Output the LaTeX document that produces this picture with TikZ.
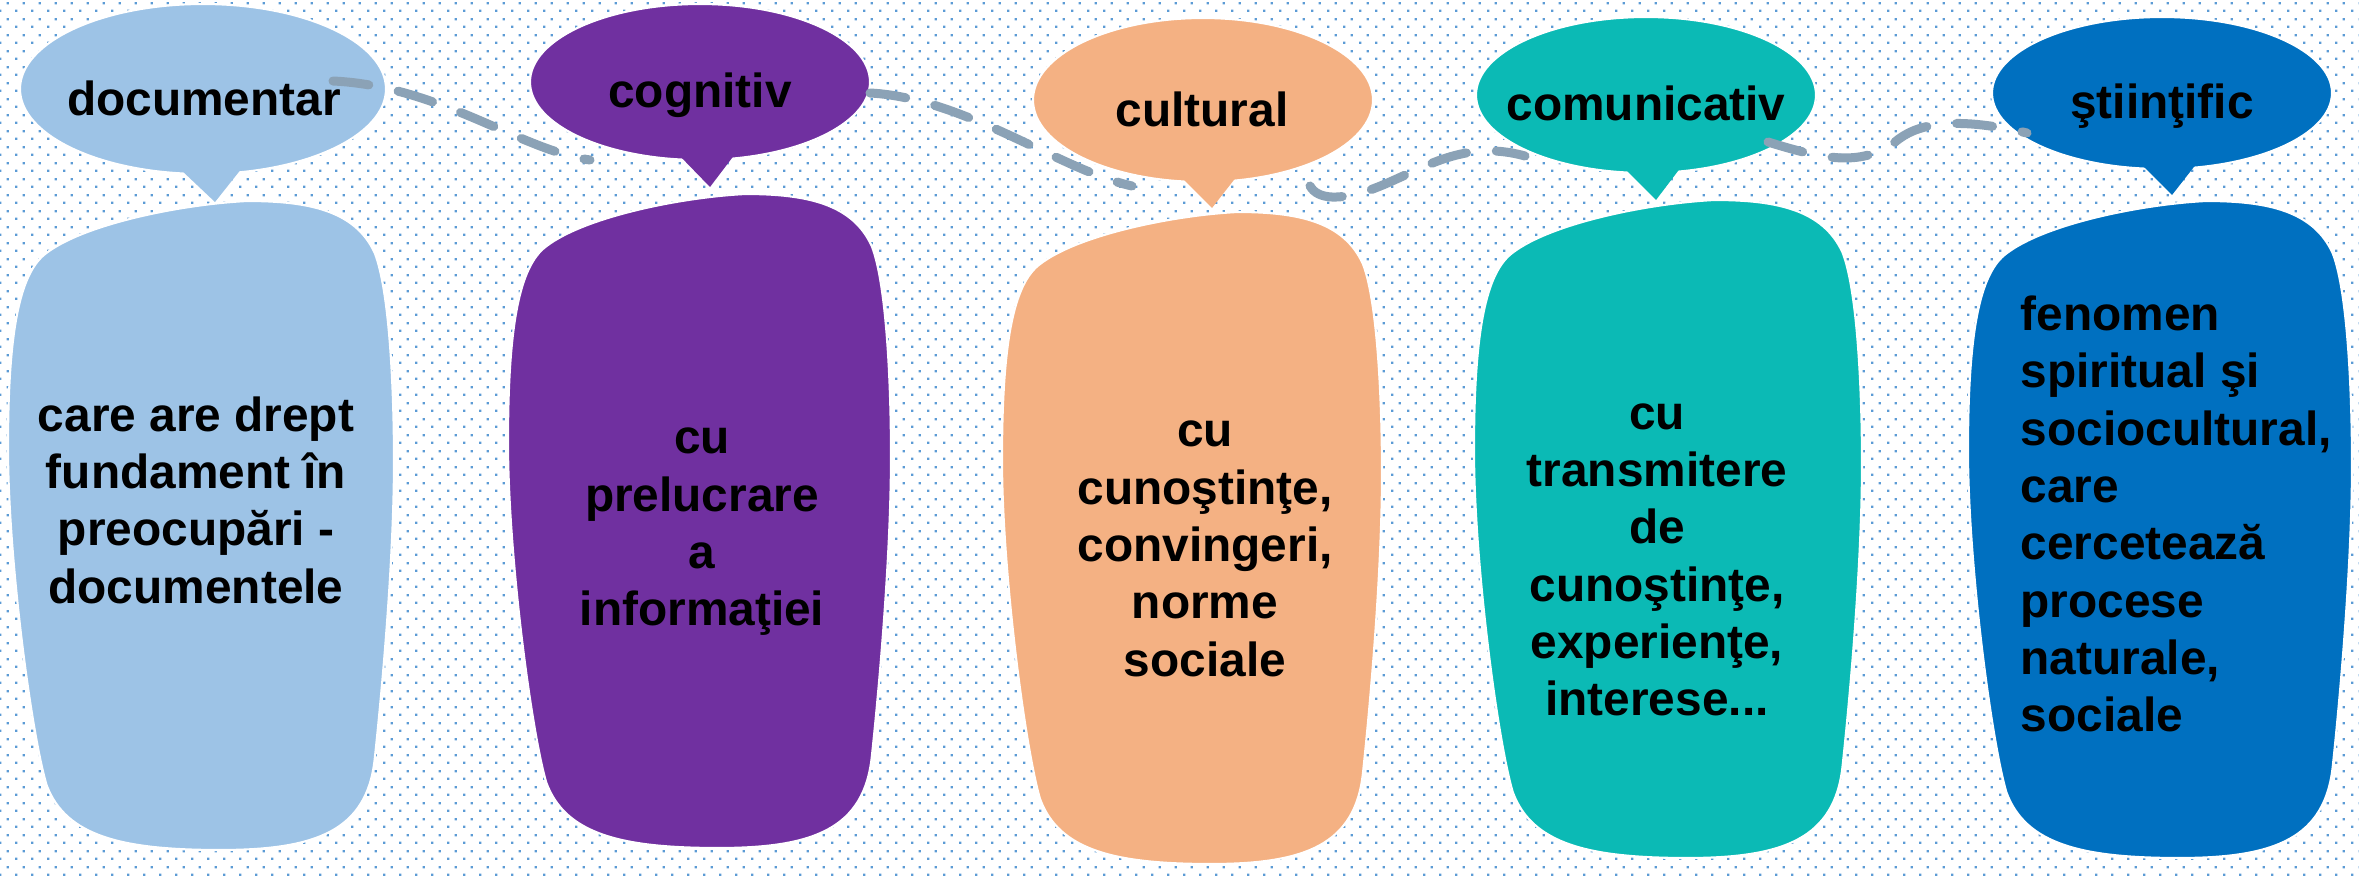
\documentclass[tikz,border=0pt]{standalone}
\usepackage{fontspec}
\setmainfont{Liberation Sans}
\usetikzlibrary{calc,patterns,shapes}

\definecolor{docblue}{HTML}{9DC3E6}
\definecolor{cogpurple}{HTML}{7030A0}
\definecolor{culpeach}{HTML}{F4B183}
\definecolor{comteal}{HTML}{0BBAB5}
\definecolor{stiblue}{HTML}{0070C0}
\definecolor{trailgrey}{HTML}{8BA2B6}
\definecolor{dotblue}{HTML}{5B9BD5}

\pgfdeclarepatternformonly{bgdots}{\pgfqpoint{0pt}{0pt}}{\pgfqpoint{4.552pt}{4.552pt}}{\pgfqpoint{4.552pt}{4.552pt}}{%
  \pgfpathrectangle{\pgfqpoint{0pt}{0pt}}{\pgfqpoint{0.7pt}{0.7pt}}%
  \pgfpathrectangle{\pgfqpoint{2.276pt}{2.276pt}}{\pgfqpoint{0.7pt}{0.7pt}}%
  \pgfusepath{fill}}

\newcommand{\blobpath}{(0.62,0) .. controls (0.78,0) and (0.9,0.015) .. (0.95,0.08)
  .. controls (0.99,0.14) and (1,0.3) .. (1,0.4)
  .. controls (1,0.55) and (0.97,0.75) .. (0.95,0.86)
  .. controls (0.93,0.97) and (0.8,1) .. (0.55,1)
  .. controls (0.3,1) and (0.15,0.98) .. (0.1,0.9)
  .. controls (0.06,0.82) and (0,0.55) .. (0,0.38)
  .. controls (0,0.2) and (0.03,0.11) .. (0.1,0.08)
  .. controls (0.2,0.035) and (0.45,0.005) .. (0.62,0) -- cycle}

\begin{document}
\begin{tikzpicture}
[x=0.01cm, y=-0.01cm,
 title/.style={font=\fontsize{13.6pt}{16pt}\selectfont\bfseries, inner sep=0pt},
 body/.style={font=\fontsize{13.6pt}{16.3pt}\selectfont\bfseries, inner sep=0pt, align=center},
 blob/.style n args={4}{draw=white, line width=0.6pt, shift={(#1,#2)}, xscale=#3, yscale=#4},
 bubble/.style={draw=white, line width=0.6pt},
 trail/.style={draw=trailgrey, line width=0.09cm, line cap=round, dash pattern=on 0.36cm off 0.3cm}]
% dotted paper
\fill[white] (0,0) rectangle (2359,876);
\fill[pattern=bgdots, pattern color=dotblue] (0,0) rectangle (2359,876);
\useasboundingbox (0,0) rectangle (2359,876);

% documentar
\fill[docblue, blob={8}{201}{386}{649}] \blobpath;
\coordinate (e1) at (203,89);
\fill[docblue, bubble] (e1) ellipse [x radius=183, y radius=85];
\fill[docblue] ($(e1)+(-24,79)$) -- ($(e1)+(12,113)$) -- ($(e1)+(39,79)$) -- cycle;
\node[title] (t1) at (204,98) {documentar};
\node[body] (b1) at (196,500) {care are drept\\ fundament în\\ preocupări -\\ documentele};

% cognitiv
\fill[cogpurple, blob={508}{194}{383}{654}] \blobpath;
\coordinate (e2) at (700,82);
\fill[cogpurple, bubble] (e2) ellipse [x radius=170, y radius=78];
\fill[cogpurple] ($(e2)+(-22,72)$) -- ($(e2)+(10,105)$) -- ($(e2)+(35,72)$) -- cycle;
\node[title] (t2) at (700,95) {cognitiv};
\node[body] (b2) at (702,532) {cu\\ prelucrare\\ a\\ informaţiei};

% cultural
\fill[culpeach, blob={1002}{212}{380}{652}] \blobpath;
\coordinate (e3) at (1203,100);
\fill[culpeach, bubble] (e3) ellipse [x radius=170, y radius=82];
\fill[culpeach] ($(e3)+(-23,76)$) -- ($(e3)+(9,108)$) -- ($(e3)+(34,76)$) -- cycle;
\node[title] (t3) at (1202,109) {cultural};
\node[body] (b3) at (1205,549) {cu\\ cunoştinţe,\\ convingeri,\\ norme\\ sociale};

% comunicativ
\fill[comteal, blob={1474}{200}{388}{658}] \blobpath;
\coordinate (e4) at (1646,95);
\fill[comteal, bubble] (e4) ellipse [x radius=170, y radius=78];
\fill[comteal] ($(e4)+(-23,72)$) -- ($(e4)+(10,105)$) -- ($(e4)+(35,72)$) -- cycle;
\node[title] (t4) at (1646,103) {comunicativ};
\node[body] (b4) at (1657,560) {cu\\ transmitere\\ de\\ cunoştinţe,\\ experienţe,\\ interese...};

% stiintific
\fill[stiblue, blob={1968}{201}{384}{657}] \blobpath;
\coordinate (e5) at (2162,93);
\fill[stiblue, bubble] (e5) ellipse [x radius=170, y radius=76];
\fill[stiblue] ($(e5)+(-22,70)$) -- ($(e5)+(10,102)$) -- ($(e5)+(35,70)$) -- cycle;
\node[title] (t5) at (2162,106) {ştiinţific};
\node[body, align=left, anchor=west] (b5) at (2020,514) {fenomen\\ spiritual şi\\ sociocultural,\\ care\\ cercetează\\ procese\\ naturale,\\ sociale};

% dashed trail between the bubbles
\draw[trail] ($(e1)+(130,-8)$) .. controls +(107,5) and +(-70,-10) .. ($(e2)+(-110,78)$);
\draw[trail] ($(e2)+(170,11)$) .. controls +(95,5) and +(-72,-16) .. ($(e3)+(-71,86)$);
\draw[trail] ($(e3)+(107,86)$) .. controls +(8,14) and +(-30,10) .. ($(e3)+(167,90)$)
  .. controls +(50,-18) and +(-65,-18) .. ($(e4)+(-121,61)$);
\draw[trail] ($(e4)+(122,47)$) .. controls +(52,16) and +(-35,26) .. ($(e4)+(249,47)$)
  .. controls +(20,-17) and +(-77,-18) .. ($(e5)+(-135,40)$);
\end{tikzpicture}
\end{document}
